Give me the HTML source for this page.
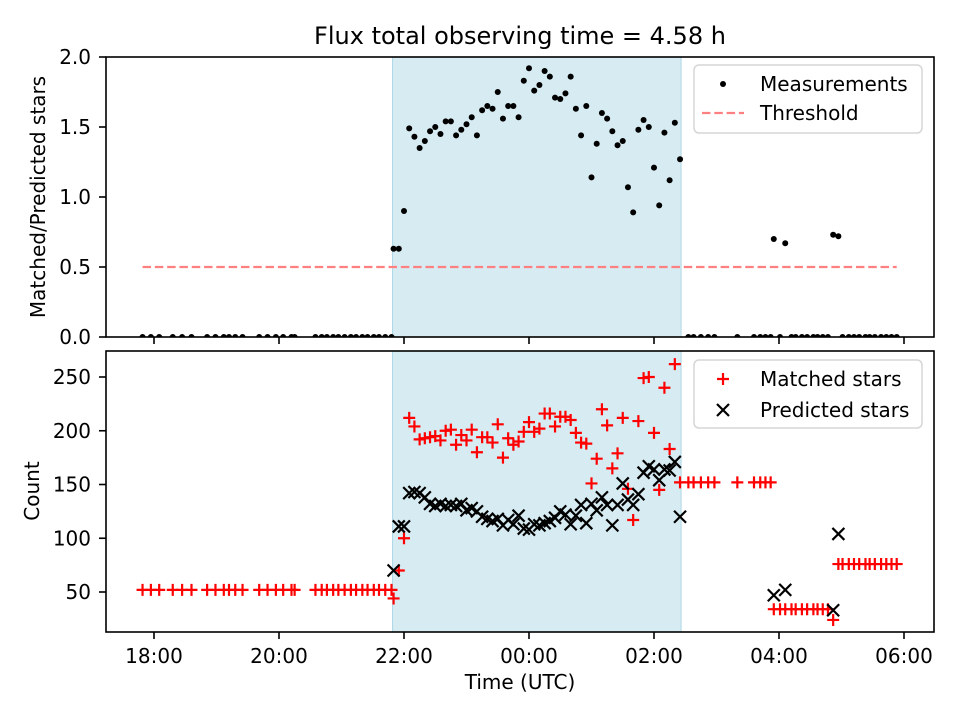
<!DOCTYPE html>
<html><head><meta charset="utf-8"><style>
html,body{margin:0;padding:0;background:#fff;}
svg{display:block;font-family:"DejaVu Sans","Liberation Sans",sans-serif;}
</style></head><body>
<svg id="chart" width="960" height="720" viewBox="0 0 960 720" xmlns="http://www.w3.org/2000/svg">
<rect width="960" height="720" fill="#fff"/>
<text x="520" y="44" text-anchor="middle" font-size="24">Flux total observing time = 4.58 h</text>
<g id="topPanel"></g>
<g id="botPanel"></g>
<text transform="translate(45,197) rotate(-90)" text-anchor="middle" font-size="20">Matched/Predicted stars</text>
<text transform="translate(39,491) rotate(-90)" text-anchor="middle" font-size="20">Count</text>
<text x="520" y="689" text-anchor="middle" font-size="20">Time (UTC)</text>
</svg>
<script>
// minutes after 18:00 UTC
const times = [-11,-3,5,18,27,36,51,59,67,72,78,85,101,109,117,124,132,135,155,161,166,172,177,183,189,194,200,205,211,216,222,228,
230,235,240,245,250,255,260,265,270,275,280,285,290,295,300,305,310,315,320,325,330,335,340,345,350,355,360,365,370,375,380,385,390,395,400,405,410,415,420,425,430,435,440,445,450,455,460,465,470,475,480,485,490,495,500,505,
513,518,525,532,538,560,576,582,587,592,595,601,606,612,616,622,627,633,637,642,647,652,657,661,667,672,677,683,687,692,698,703,708,713];
const ratio = [0,0,0,0,0,0,0,0,0,0,0,0,0,0,0,0,0,0,0,0,0,0,0,0,0,0,0,0,0,0,0,0,
0.63,0.63,0.90,1.49,1.43,1.35,1.40,1.47,1.50,1.45,1.54,1.54,1.44,1.48,1.52,1.57,1.44,1.62,1.65,1.63,1.75,1.56,1.65,1.65,1.57,1.83,1.92,1.76,1.80,1.90,1.86,1.71,1.70,1.74,1.86,1.63,1.44,1.65,1.14,1.38,1.60,1.56,1.47,1.37,1.40,1.07,0.89,1.48,1.55,1.50,1.21,0.94,1.46,1.12,1.53,1.27,
0,0,0,0,0,0,0,0,0,0,0.70,0,0.67,0,0,0,0,0,0,0,0,0.73,0.72,0,0,0,0,0,0,0,0,0,0,0];
const matched = [52,52,52,52,52,52,52,52,52,52,52,52,52,52,52,52,52,52,52,52,52,52,52,52,52,52,52,52,52,52,52,52,
44,70,100,212,204,192,193,194,195,191,200,201,187,196,191,201,180,194,194,189,206,175,193,187,190,199,208,199,202,216,216,204,213,213,210,198,189,188,151,174,220,205,165,179,212,146,117,209,249,250,198,145,240,183,262,152,
152,152,152,152,152,152,152,152,152,152,34,34,34,34,34,34,34,34,34,34,34,24,76,76,76,76,76,76,76,76,76,76,76,76];
const predicted = [0,0,0,0,0,0,0,0,0,0,0,0,0,0,0,0,0,0,0,0,0,0,0,0,0,0,0,0,0,0,0,0,
70,111,111,142,143,142,138,132,130,132,130,131,130,132,126,128,125,120,118,116,118,112,117,113,121,109,108,113,112,114,116,119,125,122,113,121,131,114,132,126,138,131,112,131,151,136,131,141,161,167,164,154,164,163,171,120,
0,0,0,0,0,0,0,0,0,0,47,0,52,0,0,0,0,0,0,0,0,33,104,0,0,0,0,0,0,0,0,0,0,0];
const threshold = 0.5;
const shadeStart = 229, shadeEnd = 506;
const xTicks = [0,120,240,360,480,600,720];
const xTickLabels = ["18:00","20:00","22:00","00:00","02:00","04:00","06:00"];
const topTicks = [0,0.5,1.0,1.5,2.0];
const botTicks = [50,100,150,200,250];

const NS="http://www.w3.org/2000/svg";
const L=106,R=934;
const T1=57,B1=337,T2=351,B2=632;
const xs=m=>154+m*125/120;
const y1=v=>337-v*140;
const y2=v=>592-(v-50)*1.075;
function mk(tag,attrs,parent){const e=document.createElementNS(NS,tag);for(const k in attrs)e.setAttribute(k,attrs[k]);parent.appendChild(e);return e;}
const svgEl=document.getElementById('chart');
const defs=mk('defs',{},svgEl);
const c1=mk('clipPath',{id:'c1'},defs);mk('rect',{x:L,y:T1,width:R-L,height:B1-T1},c1);
const c2=mk('clipPath',{id:'c2'},defs);mk('rect',{x:L,y:T2,width:R-L,height:B2-T2},c2);
const topG=document.getElementById('topPanel'),botG=document.getElementById('botPanel');

function panel(g,T,B,clip,yfn,ticks,fmt,showX,prefix){
  const s=mk('rect',{x:xs(shadeStart),y:T,width:xs(shadeEnd)-xs(shadeStart),height:B-T,fill:'#add8e6','fill-opacity':0.5,stroke:'#add8e6','stroke-width':1},g);
  
  
  const pg=mk('g',{'clip-path':'url(#'+clip+')'},g);
  ticks.forEach(t=>{
    const y=yfn(t);
    mk('line',{x1:L-7,x2:L,y1:y,y2:y,stroke:'#000','stroke-width':1.6},g);
    const tx=mk('text',{x:L-15,y:y+7,'text-anchor':'end','font-size':20},g);
    tx.textContent=fmt(t);
    
    
  });
  xTicks.forEach((t,i)=>{
    const x=xs(t);
    mk('line',{x1:x,x2:x,y1:B,y2:B+7,stroke:'#000','stroke-width':1.6},g);
    if(showX){
      const tx=mk('text',{x:x,y:B+31,'text-anchor':'middle','font-size':20},g);
      tx.textContent=xTickLabels[i];
      
      
    }
  });
  return pg;
}
const pg1=panel(topG,T1,B1,'c1',y1,topTicks,v=>v.toFixed(1),false,'top');
const pg2=panel(botG,T2,B2,'c2',y2,botTicks,v=>String(v),true,'bottom');

const th=mk('line',{x1:xs(times[0]),x2:xs(times[times.length-1]),y1:y1(threshold),y2:y1(threshold),stroke:'#ff8080','stroke-width':2.2,'stroke-dasharray':'8.5,3.8'},pg1);


times.forEach((t,i)=>{
  const c=mk('circle',{cx:xs(t),cy:y1(ratio[i]),r:3,fill:'#000'},pg1);
  
  
});
function plus(g,x,y,col){return mk('path',{d:`M${x-6},${y}H${x+6}M${x},${y-6}V${y+6}`,stroke:col,'stroke-width':2.2,fill:'none'},g);}
function cross(g,x,y,col){return mk('path',{d:`M${x-6},${y-6}L${x+6},${y+6}M${x-6},${y+6}L${x+6},${y-6}`,stroke:col,'stroke-width':2.2,fill:'none'},g);}
times.forEach((t,i)=>{
  const p=plus(pg2,xs(t),y2(matched[i]),'#ff0000');
  
  
});
times.forEach((t,i)=>{
  const p=cross(pg2,xs(t),y2(predicted[i]),'#000');
  
  
});
[[T1,B1,topG],[T2,B2,botG]].forEach(([T,B,g])=>{
  const f=mk('rect',{x:L,y:T,width:R-L,height:B-T,fill:'none',stroke:'#000','stroke-width':1.6},g);
  
  
});
function legend(g,y0,items,name,gap){
  const lg=mk('g',{},g);
  
  
  mk('rect',{x:694,y:y0,width:228,height:68,rx:5,fill:'#fff','fill-opacity':0.8,stroke:'#d6d6d6','stroke-width':1.5},lg);
  items.forEach((it,k)=>{
    const yy=y0+19+k*gap;
    const e=mk('g',{},lg);
    
    
    it.draw(e,723,yy);
    const tx=mk('text',{x:760,y:yy+7,'font-size':20},e);tx.textContent=it.label;
  });
}
legend(topG,65,[
 {label:'Measurements',draw:(e,x,y)=>mk('circle',{cx:x,cy:y,r:3,fill:'#000'},e)},
 {label:'Threshold',draw:(e,x,y)=>mk('line',{x1:x-21,x2:x+21,y1:y,y2:y,stroke:'#ff8080','stroke-width':2.2,'stroke-dasharray':'8.5,3.8'},e)}
],'top-legend',29);
legend(botG,360,[
 {label:'Matched stars',draw:(e,x,y)=>plus(e,x,y,'#ff0000')},
 {label:'Predicted stars',draw:(e,x,y)=>cross(e,x,y,'#000')}
],'bottom-legend',31);
</script>
</body></html>
